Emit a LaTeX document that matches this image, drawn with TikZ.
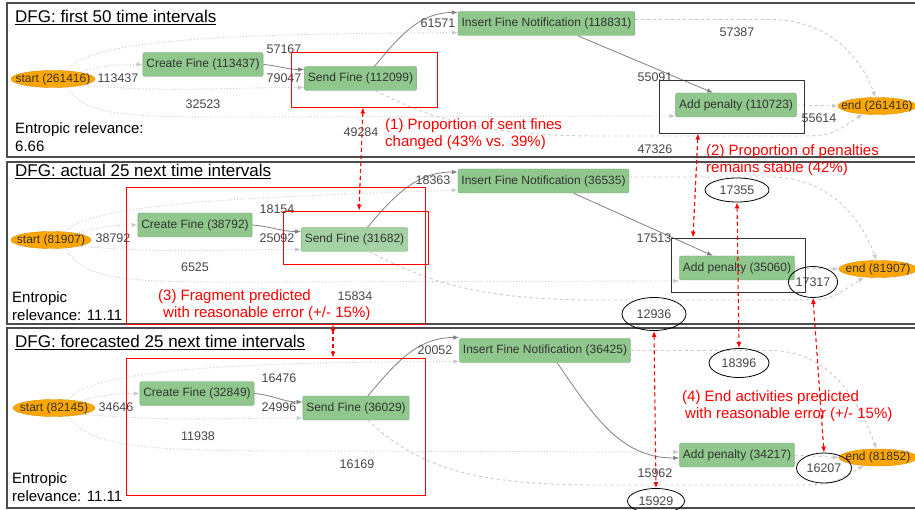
\documentclass[tikz,border=0pt]{standalone}
\usepackage{fontspec}
\setmainfont{Liberation Sans}
\usetikzlibrary{shapes.geometric,arrows.meta}

\definecolor{actgreen}{RGB}{143,199,141}
\definecolor{termorange}{RGB}{255,166,0}
\definecolor{edgegray}{RGB}{128,128,128}
\definecolor{raregray}{RGB}{200,200,200}
\definecolor{hlred}{RGB}{255,0,0}

\newcommand{\nodefont}{\fontsize{12}{14}\selectfont}
\newcommand{\lblfont}{\fontsize{12.5}{15}\selectfont}
\newcommand{\titlefont}{\fontsize{17}{20}\selectfont}
\newcommand{\relfont}{\fontsize{15}{18}\selectfont}
\newcommand{\notefont}{\fontsize{15}{17.5}\selectfont}

\tikzset{
    panel/.style={draw=black!70, line width=1.3pt},
    act/.style={rectangle, rounded corners=2pt, fill=actgreen, draw=actgreen!85!black,
        line width=0.4pt, minimum height=24pt, inner xsep=3.5pt, font=\nodefont, text=black!80},
    term/.style={ellipse, fill=termorange, draw=termorange!85!black, line width=0.4pt,
        inner sep=0pt, minimum width=#1, minimum height=17pt, font=\nodefont, text=black!80},
    term/.default=84pt,
    lbl/.style={font=\lblfont, text=black!72, inner sep=1pt},
    ring/.style 2 args={ellipse, draw=black, line width=0.8pt, minimum width=#1,
        minimum height=#2, inner sep=0pt, font=\lblfont, text=black!72},
    hlbox/.style 2 args={draw=hlred, line width=0.9pt, minimum width=#1, minimum height=#2, inner sep=0pt},
    keybox/.style 2 args={draw=black!80, line width=0.9pt, minimum width=#1, minimum height=#2, inner sep=0pt},
    flow/.style={draw=edgegray, line width=0.8pt, -{Latex[length=6pt,width=4.5pt]}},
    rare/.style={draw=raregray, dotted, line width=0.9pt, -{Latex[length=6pt,width=4.5pt]}},
    toend/.style={draw=raregray, dashed, line width=0.9pt, -{Latex[length=6pt,width=4.5pt]}},
    cmp/.style={draw=hlred, line width=1.1pt, dash pattern=on 4pt off 3pt,
        {Latex[length=6pt,width=5pt]}-{Latex[length=6pt,width=5pt]}},
    title/.style={font=\titlefont, inner sep=0pt},
    relv/.style={font=\relfont, align=left, inner sep=0pt},
    note/.style={font=\notefont, text=hlred, align=left, inner sep=0pt}
}

\begin{document}
\begin{tikzpicture}[x=1pt,y=-1pt]
    \useasboundingbox (0,0) rectangle (915,510);
    % Draw panels
    \draw[panel] (7,3) rectangle (925,157);
    \draw[panel] (7,162) rectangle (925,324);
    \draw[panel] (7,328) rectangle (925,508);
    \node[title, anchor=base west] (t1) at (15,23) {\underline{DFG: first 50 time intervals}};
    \node[title, anchor=base west] (t2) at (15,177) {\underline{DFG: actual 25 next time intervals}};
    \node[title, anchor=base west] (t3) at (15,348) {\underline{DFG: forecasted 25 next time intervals}};
    \node[relv, anchor=north west] (er1) at (15,122) {Entropic relevance:\\6.66};
    \node[relv, anchor=north west] (er2) at (12,291) {Entropic\\relevance: 11.11};
    \node[relv, anchor=north west] (er3) at (12,472) {Entropic\\relevance: 11.11};

    % Panel 1: first 50 time intervals
    \node[term] (s1) at (53,79) {\makebox[0pt]{start (261416)}};
    \node[act] (c1) at (203,64.5) {Create Fine (113437)};
    \node[act] (f1) at (360.5,78.5) {Send Fine (112099)};
    \node[act] (i1) at (546.5,23.5) {Insert Fine Notification (118831)};
    \node[act] (a1) at (736,105) {Add penalty (110723)};
    \node[term=78pt] (e1) at (877,106) {\makebox[0pt]{end (261416)}};
    \draw[rare] (s1.15) to[out=15,in=180] (c1.west);
    \draw[rare] (s1.-12) to[out=-5,in=180] ([yshift=-9pt]f1.west);
    \draw[rare] (s1.30) .. controls (85,34) and (300,34) .. ([yshift=-9pt]i1.west);
    \draw[rare] (s1.-30) .. controls (85,117) and (130,117) .. (250,117) -- ([yshift=-11pt]a1.west);
    \draw[flow] (c1.east) to[out=-5,in=180] ([yshift=9pt]f1.west);
    \draw[flow] ([xshift=14pt]f1.north) to[out=50,in=180] ([yshift=11pt]i1.west);
    \draw[flow] ([xshift=31pt]i1.south) -- ([xshift=-23pt]a1.north);
    \draw[toend] ([yshift=4pt]i1.east) -- (770,19.5) to[out=0,in=110] (e1.100);
    \draw[toend] (a1.east) -- (e1.west);
    \draw[toend] ([xshift=15pt]f1.south) .. controls (430,118) and (480,136) .. (600,136)
        -- (790,136) .. controls (830,136) .. (e1.-150);
    \node[lbl] (q1a) at (118,78) {113437};
    \node[lbl] (q1b) at (284,49) {57167};
    \node[lbl] (q1c) at (284,78) {79047};
    \node[lbl] (q1d) at (203,104) {32523};
    \node[lbl] (q1e) at (438,23) {61571};
    \node[lbl] (q1f) at (361,132) {49284};
    \node[lbl] (q1g) at (737,32) {57387};
    \node[lbl] (q1h) at (655,77) {55091};
    \node[lbl] (q1i) at (819,118) {55614};
    \node[lbl] (q1j) at (655,149) {47326};

    % Panel 2: actual 25 next time intervals
    \node[term=80pt] (s2) at (51,240) {\makebox[0pt]{start (81907)}};
    \node[act] (c2) at (195,225) {Create Fine (38792)};
    \node[act, fill=actgreen!80!white] (f2) at (354.5,239.5) {Send Fine (31682)};
    \node[act] (i2) at (543.5,181) {Insert Fine Notification (36535)};
    \node[act] (a2) at (737,268) {Add penalty (35060)};
    \node[term=78pt] (e2) at (878,269) {\makebox[0pt]{end (81907)}};
    \draw[rare] (s2.15) to[out=15,in=180] (c2.west);
    \draw[rare] (s2.-12) to[out=-5,in=180] ([yshift=-10pt]f2.west);
    \draw[rare] (s2.30) .. controls (90,200) and (300,196) .. ([yshift=-9pt]i2.west);
    \draw[rare] (s2.-30) .. controls (85,282) and (130,282) .. (250,282) -- ([yshift=-13pt]a2.west);
    \draw[flow] (c2.east) to[out=-5,in=180] ([yshift=8pt]f2.west);
    \draw[flow] ([xshift=13pt]f2.north) to[out=50,in=180] ([yshift=9pt]i2.west);
    \draw[flow] ([xshift=30pt]i2.south) -- ([xshift=-24pt]a2.north);
    \draw[toend] ([yshift=4pt]i2.east) -- (770,177) to[out=0,in=110] (e2.100);
    \draw[toend] (a2.east) -- (e2.west);
    \draw[toend] ([xshift=15pt]f2.south) .. controls (430,283) and (480,300) .. (600,300)
        -- (790,300) .. controls (830,300) .. (e2.-150);
    \node[lbl] (q2a) at (113,238) {38792};
    \node[lbl] (q2b) at (277,209) {18154};
    \node[lbl] (q2c) at (277,238) {25092};
    \node[lbl] (q2d) at (195,267) {6525};
    \node[lbl] (q2e) at (433,180) {18363};
    \node[lbl] (q2f) at (355,296) {15834};
    \node[lbl] (q2g) at (654,238) {17513};
    \node[ring={64pt}{24pt}] (m1) at (737,190) {17355};
    \node[ring={49pt}{31pt}] (m2) at (813,282) {17317};
    \node[ring={64pt}{33pt}] (m3) at (654,314) {12936};

    % Panel 3: forecasted 25 next time intervals
    \node[term=82pt] (s3) at (54,408) {\makebox[0pt]{start (82145)}};
    \node[act] (c3) at (197,393.5) {Create Fine (32849)};
    \node[act] (f3) at (356,408) {Send Fine (36029)};
    \node[act] (i3) at (545,350.5) {Insert Fine Notification (36425)};
    \node[act] (a3) at (737,455) {Add penalty (34217)};
    \node[term=78pt] (e3) at (878,457.5) {\makebox[0pt]{end (81852)}};
    \draw[rare] (s3.15) to[out=15,in=180] (c3.west);
    \draw[rare] (s3.-12) to[out=-5,in=180] ([yshift=-10pt]f3.west);
    \draw[rare] (s3.30) .. controls (90,365) and (300,362) .. ([yshift=-11pt]i3.west);
    \draw[rare] (s3.-30) .. controls (90,448) and (150,451) .. (300,451) -- ([yshift=3pt]a3.west);
    \draw[flow] (c3.east) to[out=-5,in=180] ([yshift=6pt]f3.west);
    \draw[flow] ([xshift=12pt]f3.north) to[out=50,in=180] ([yshift=13pt]i3.west);
    \draw[flow] ([xshift=12pt]i3.south) to[out=-55,in=180] ([yshift=-3pt]a3.west);
    \draw[toend] (i3.east) -- (770,350.5) to[out=0,in=110] (e3.100);
    \draw[toend] (a3.east) -- (e3.west);
    \draw[toend] ([xshift=12pt]f3.south) .. controls (420,470) and (480,485) .. (600,485)
        -- (790,485) .. controls (830,485) .. (e3.-150);
    \node[lbl] (q3a) at (116,407) {34646};
    \node[lbl] (q3b) at (279,378) {16476};
    \node[lbl] (q3c) at (279,407) {24996};
    \node[lbl] (q3d) at (198,436) {11938};
    \node[lbl] (q3e) at (435,350) {20052};
    \node[lbl] (q3f) at (357,464) {16169};
    \node[lbl] (q3g) at (655,473) {15962};
    \node[ring={60pt}{29pt}] (m4) at (739,363) {18396};
    \node[ring={55pt}{30pt}] (m5) at (824,468) {16207};
    \node[ring={57pt}{25pt}] (m6) at (656,501) {15929};

    % Highlight boxes and comparisons
    \node[hlbox={146pt}{55pt}] (r1) at (364,79.5) {};
    \node[hlbox={145pt}{53pt}] (r2) at (355.5,237.5) {};
    \node[hlbox={299pt}{137pt}] (r3) at (275.5,255.5) {};
    \node[hlbox={299pt}{137pt}] (r4) at (275.5,426.5) {};
    \node[keybox={145pt}{53pt}] (k1) at (731.5,106.5) {};
    \node[keybox={134pt}{54pt}] (k2) at (738,265) {};
    \draw[cmp] ([xshift=-1pt]r1.south) -- ([xshift=3.5pt]r2.north);
    \draw[cmp] ([xshift=-33.5pt]k1.south) -- ([xshift=-45pt]k2.north);
    \draw[cmp] ([xshift=57.5pt]r3.south) -- ([xshift=57.5pt]r4.north);
    \draw[cmp] (m1.south) -- (m4.north);
    \draw[cmp] (m2.south) -- (m5.north);
    \draw[cmp] (m3.south) -- (m6.north);
    \node[note, anchor=north west] (n1) at (385,118) {(1) Proportion of sent fines\\changed (43\% vs. 39\%)};
    \node[note, anchor=north west] (n2) at (706,144) {(2) Proportion of penalties\\remains stable (42\%)};
    \node[note, anchor=north west] (n3) at (158,289) {(3) Fragment predicted\\\hspace*{5pt}with reasonable error (+/- 15\%)};
    \node[note, anchor=north west] (n4) at (682,390) {(4) End activities predicted\\\hspace*{3pt}with reasonable error (+/- 15\%)};
\end{tikzpicture}
\end{document}
